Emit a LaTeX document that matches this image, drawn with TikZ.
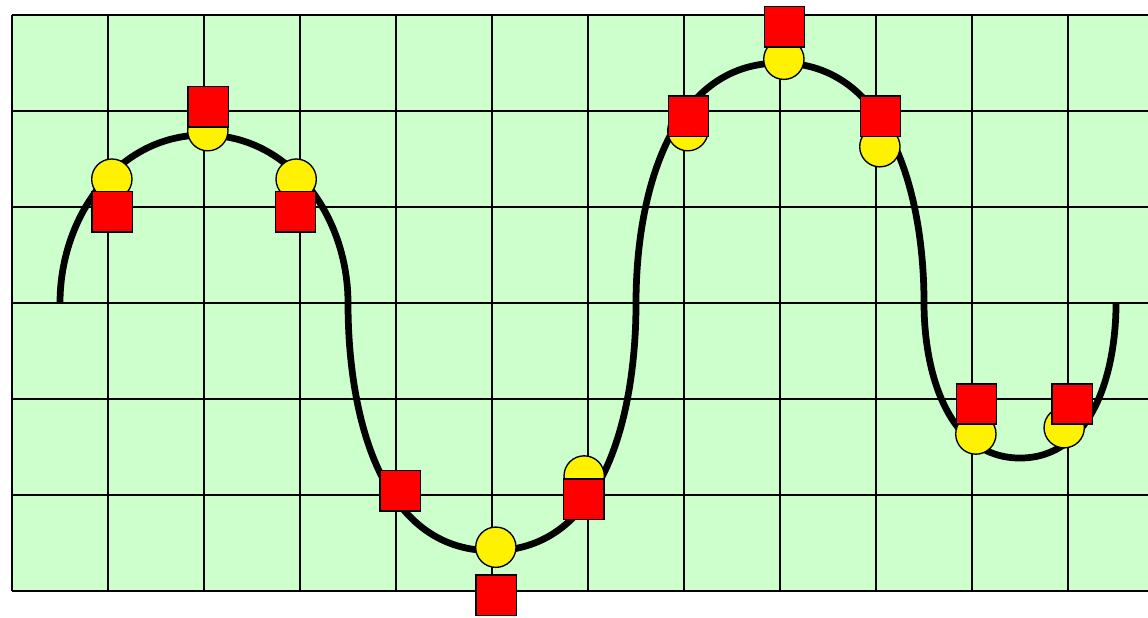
\documentclass[tikz,border=0pt]{standalone}
\definecolor{paper}{RGB}{204,255,204}
\begin{document}
\begin{tikzpicture}[
  dot/.style={draw,circle,fill=yellow,inner sep=0pt,minimum size=4.2mm,thin},
  box/.style={draw,rectangle,fill=red,inner sep=0pt,minimum size=4.2mm,thin},
  wave/.style={line width=2pt}
]
  \useasboundingbox (-0.125,-0.281) rectangle (11.833,6.156);
  \clip (-0.125,-0.281) rectangle (11.833,6.156);
  % grid
  \fill[paper] (0,0) rectangle (12,6);
  \draw[line width=0.7pt] (0,0) grid (12,6);
  % the curve
  \draw[wave] (0.5,3) to[out=90,in=180] (2,4.75) to[out=0,in=90] (3.5,3)
    to[out=-90,in=180] (5,0.42) to[out=0,in=-90] (6.5,3)
    to[out=90,in=180] (8,5.5) to[out=0,in=90] (9.5,3)
    to[out=-90,in=180] (10.5,1.385) to[out=0,in=-90] (11.5,3);
  % circles
  \node[dot] (c1) at (1.04,4.29) {};
  \node[dot] (c2) at (2.04,4.795) {};
  \node[dot] (c3) at (2.96,4.29) {};
  \node[dot] (c5) at (5.04,0.456) {};
  \node[dot] (c6) at (5.96,1.198) {};
  \node[dot] (c7) at (7.04,4.795) {};
  \node[dot] (c8) at (8.04,5.539) {};
  \node[dot] (c9) at (9.04,4.628) {};
  \node[dot] (c10) at (10.04,1.635) {};
  \node[dot] (c11) at (10.96,1.701) {};
  % squares
  \node[box] (s1) at (1.044,3.948) {};
  \node[box] (s2) at (2.045,5.042) {};
  \node[box] (s3) at (2.953,3.948) {};
  \node[box] (s4) at (4.045,1.042) {};
  \node[box] (s5) at (5.044,-0.045) {};
  \node[box] (s6) at (5.956,0.958) {};
  \node[box] (s7) at (7.045,4.945) {};
  \node[box] (s8) at (8.047,5.875) {};
  \node[box] (s9) at (9.047,4.945) {};
  \node[box] (s10) at (10.045,1.948) {};
  \node[box] (s11) at (11.044,1.948) {};
\end{tikzpicture}
\end{document}
